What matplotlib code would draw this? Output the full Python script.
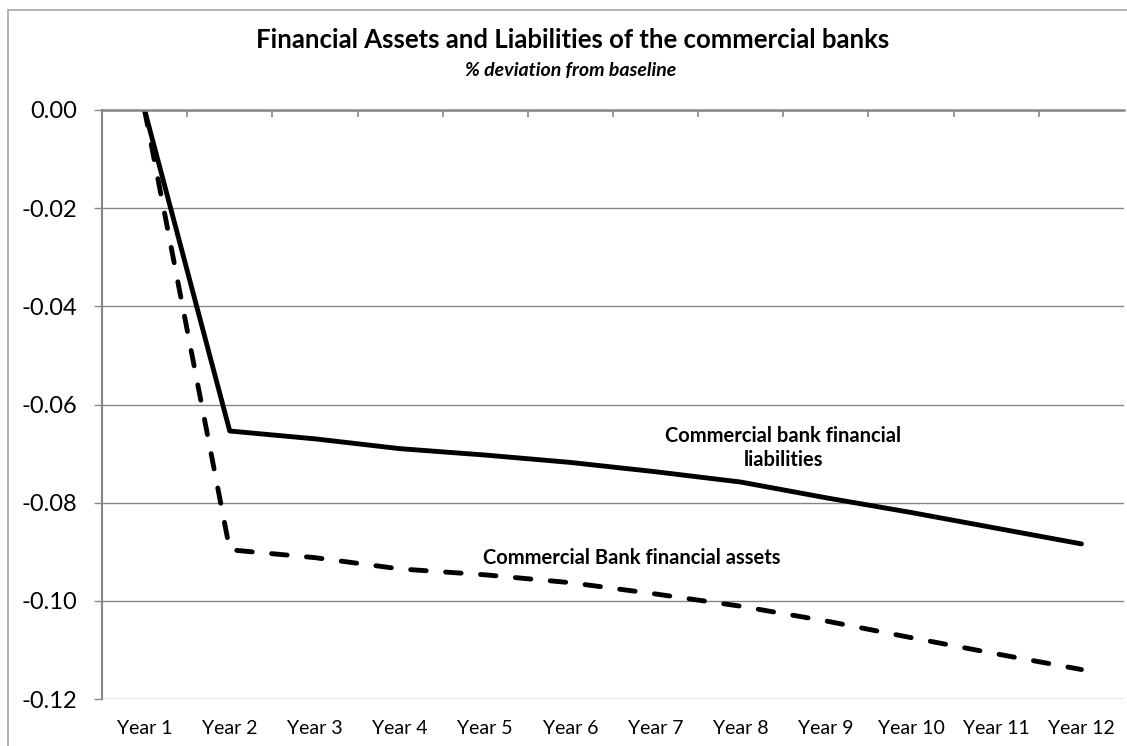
import numpy as np
import matplotlib.pyplot as plt
from matplotlib.patches import Rectangle

plt.rcParams['font.family'] = ['Lato', 'DejaVu Sans']

years = ["Year %d" % i for i in range(1, 13)]
liabilities = [0.0, -0.0654, -0.0670, -0.0690, -0.0703, -0.0718,
               -0.0737, -0.0758, -0.0790, -0.0820, -0.0852, -0.0884]
assets = [0.0, -0.0896, -0.0912, -0.0935, -0.0947, -0.0963,
          -0.0986, -0.1011, -0.1041, -0.1075, -0.1108, -0.1140]
yticks = [0.00, -0.02, -0.04, -0.06, -0.08, -0.10, -0.12]

grey = '#868686'

fig = plt.figure(figsize=(11.27, 7.46), dpi=100)
# chart area border
fig.patches.append(Rectangle((8 / 1127, -0.05), 1.2, 1 - 10 / 746 + 0.05,
                             transform=fig.transFigure, fill=False,
                             edgecolor='#a6a6a6', lw=1.2))

ax = fig.add_axes([102 / 1127, 47 / 746, 1022 / 1127, 589 / 746])
x = np.arange(1, 13)
ax.plot(x, liabilities, color='black', lw=3.5, solid_capstyle='round')
ax.plot(x, assets, color='black', lw=3.5, dashes=(3.2, 4.0),
        dash_capstyle='round')

ax.set_xlim(0.5, 12.5)
ax.set_ylim(-0.12, 0.0)
ax.set_yticks(yticks)
ax.set_yticklabels(["%.2f" % v for v in yticks], fontsize=17)
ax.yaxis.grid(True, color=grey, lw=1)
ax.set_axisbelow(True)

ax.set_xticks(x)
ax.set_xticklabels(years, fontsize=14)
ax.set_xticks(np.arange(1.5, 12.5, 1), minor=True)
ax.tick_params(axis='x', which='major', length=0, pad=15)
ax.tick_params(axis='x', which='minor', bottom=False, top=True,
               direction='in', length=5, width=1.2, color=grey)
ax.tick_params(axis='y', length=6, width=1, color=grey, pad=12)

for s in ['right', 'bottom']:
    ax.spines[s].set_visible(False)
ax.spines['left'].set_color(grey)
ax.spines['left'].set_linewidth(1.5)
ax.spines['top'].set_color(grey)
ax.spines['top'].set_linewidth(1.8)

ax.text(8.5, -0.0688, "Commercial bank financial\nliabilities", fontsize=14.5,
        fontweight='bold', ha='center', va='center', linespacing=1.25)
ax.text(6.72, -0.0913, "Commercial Bank financial assets", fontsize=14.5,
        fontweight='bold', ha='center', va='center')

fig.text(573 / 1127, 1 - 40 / 746, "Financial Assets and Liabilities of the commercial banks",
         fontsize=18.5, fontweight='bold', ha='center', va='center')
fig.text(571 / 1127, 1 - 70 / 746, "% deviation from baseline",
         fontsize=14, fontweight='bold', style='italic', ha='center', va='center')

fig.savefig('out.png', dpi=100)
